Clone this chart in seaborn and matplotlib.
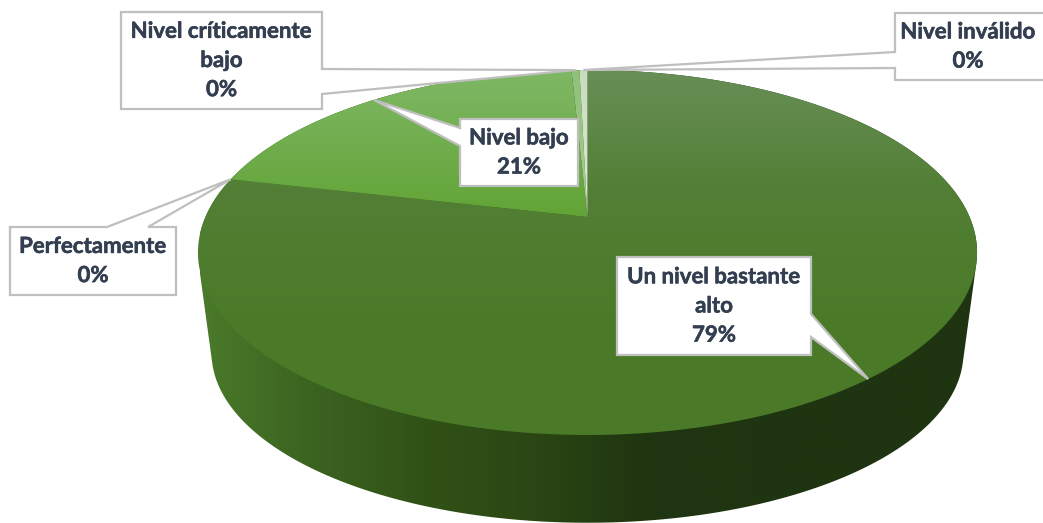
import numpy as np
import matplotlib
matplotlib.use("Agg")
import matplotlib.pyplot as plt
import matplotlib.patheffects as pe
from matplotlib.patches import Polygon
import seaborn as sns

categories = ["Un nivel bastante\nalto", "Perfectamente", "Nivel bajo", "Nivel críticamente\nbajo", "Nivel inválido"]
values = [78.6, 0.0, 20.6, 0.4, 0.4]
percent_labels = ["79%", "0%", "21%", "0%", "0%"]

sns.set_theme(style="white")
plt.rcParams['font.family'] = ['Lato', 'DejaVu Sans']

W, H = 1043, 523
fig = plt.figure(figsize=(W / 100, H / 100), dpi=100)
ax = fig.add_axes([0, 0, 1, 1])
ax.set_xlim(0, W)
ax.set_ylim(H, 0)
ax.axis("off")

CX, CY = 587.5, 217.0
K, A, B = 0.1945, 175.6, 382.1


def project(theta, sx=1.0, sy=1.0, oy=0.0):
    u, v = np.sin(theta), np.cos(theta)
    d = 1 + K * v
    return CX + sx * B * u / d, CY + oy - sy * A * v / d


def convex_hull(points):
    pts = sorted(set(map(tuple, points)))

    def half(seq):
        out = []
        for p in seq:
            while len(out) >= 2 and ((out[-1][0] - out[-2][0]) * (p[1] - out[-2][1])
                                     - (out[-1][1] - out[-2][1]) * (p[0] - out[-2][0])) <= 0:
                out.pop()
            out.append(p)
        return out[:-1]

    return np.array(half(pts) + half(pts[::-1]))


fractions = np.array(values) / sum(values)
edges = np.concatenate([[0], np.cumsum(fractions)]) * 2 * np.pi

# side wall: horizontal gradient clipped to the outline of both rims
side_cmap = sns.blend_palette(["#4a7a2a", "#3b6320", "#315217", "#2b4614", "#203510", "#1f3410", "#1f3410", "#1f3410"], as_cmap=True)
th = np.linspace(0, 2 * np.pi, 721)
tx, ty = project(th)
bx, by = project(th, 0.965, 0.93, 103.0)
hull = convex_hull(np.column_stack([np.r_[tx, bx], np.r_[ty, by]]))
side_img = ax.imshow(np.linspace(0, 1, 512).reshape(1, -1), cmap=side_cmap, aspect="auto",
                     extent=(200, 980, H + 5, 60), zorder=1, interpolation="bilinear")
side_patch = Polygon(hull, closed=True, transform=ax.transData, facecolor="none", edgecolor="none")
ax.add_patch(side_patch)
side_img.set_clip_path(side_patch)

# top surface, vertical gradient per slice
gradients = [
    ["#688f57", "#527f35", "#4b7b29", "#4a7a28"],
    ["#688f57", "#527f35"],
    ["#80b866", "#62a436"],
    ["#8fc078", "#a8cf95"],
    ["#c8dcbc", "#e0ecd8"],
]
for i in range(len(values)):
    if fractions[i] <= 0:
        continue
    arc = np.linspace(edges[i], edges[i + 1], 300)
    ax_, ay_ = project(arc)
    poly = np.column_stack([np.r_[CX, ax_], np.r_[CY, ay_]])
    ymax = 435 if i == 0 else CY
    grad = sns.blend_palette(gradients[i], as_cmap=True)
    img = ax.imshow(np.linspace(0, 1, 256).reshape(-1, 1), cmap=grad, aspect="auto",
                    extent=(190, 985, ymax, 68), zorder=2, interpolation="bilinear")
    patch = Polygon(poly, closed=True, transform=ax.transData, facecolor="none", edgecolor="none")
    ax.add_patch(patch)
    img.set_clip_path(patch)
ax.set_xlim(0, W)
ax.set_ylim(H, 0)


def midpoint(i):
    return project(0.5 * (edges[i] + edges[i + 1]))


BORDER = "#bfbfbf"
TEXT = "#333f50"
callouts = [
    (617, 811, 257, 355, "right", (314, 337), 0),
    (10, 176, 227, 295, "top", (107, 148), 1),
    (460, 578, 119, 186, "left", (128, 146), 2),
    (121, 322, 12, 109, "right", (69, 94), 3),
    (895, 1046, 13, 80, "left", (52, 68), 4),
]
for x0, x1, y0, y1, side, (a, b), i in callouts:
    tip = midpoint(i) if fractions[i] > 0 else project(edges[i])
    if side == "right":
        pts = [(x0, y0), (x1, y0), (x1, a), tip, (x1, b), (x1, y1), (x0, y1)]
    elif side == "left":
        pts = [(x0, y0), (x1, y0), (x1, y1), (x0, y1), (x0, b), tip, (x0, a)]
    else:
        pts = [(x0, y0), (a, y0), tip, (b, y0), (x1, y0), (x1, y1), (x0, y1)]
    ax.add_patch(Polygon(pts, closed=True, facecolor="white", edgecolor=BORDER, linewidth=1.6,
                         joinstyle="miter", zorder=3))
    cxt = 0.5 * (x0 + x1) if i != 4 else 968
    t = ax.text(cxt, 0.5 * (y0 + y1), categories[i] + "\n" + percent_labels[i], ha="center", va="center",
                color=TEXT, fontsize=16, fontweight="bold", linespacing=1.48, zorder=4)
    t.set_path_effects([pe.withStroke(linewidth=0.4, foreground=TEXT)])

fig.savefig("out.png", dpi=100)
